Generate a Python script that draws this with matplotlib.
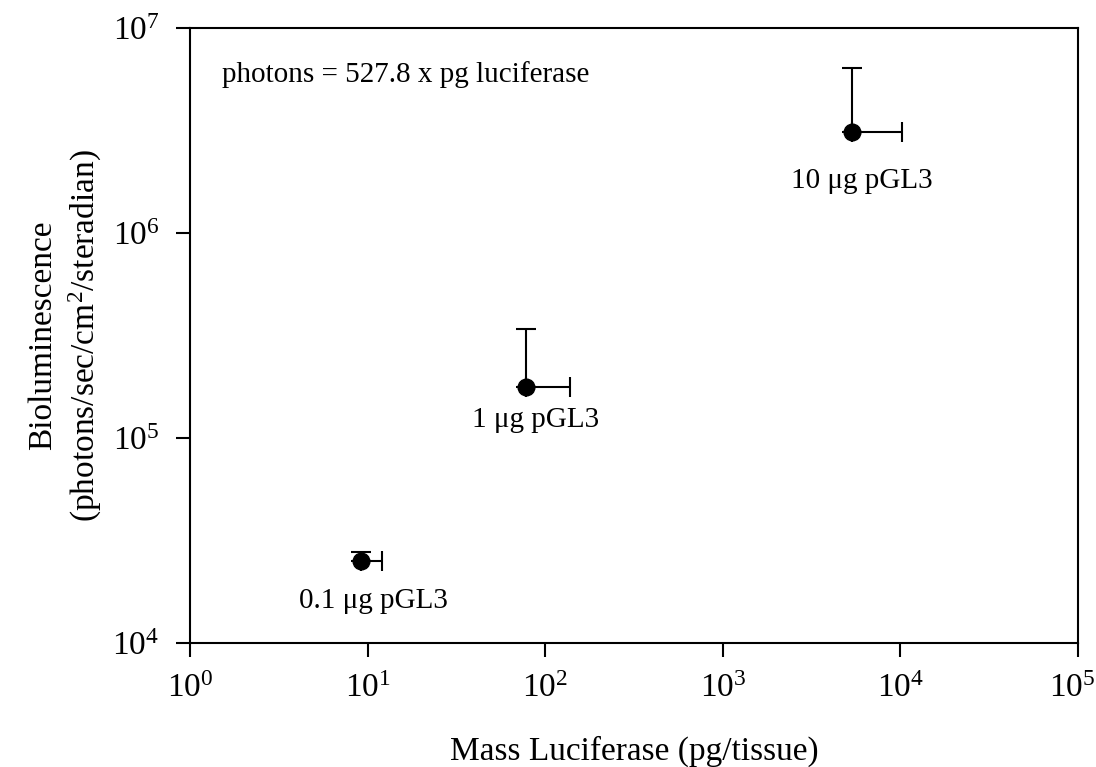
import numpy as np
import matplotlib
matplotlib.use("Agg")
import matplotlib.pyplot as plt
from matplotlib.ticker import LogFormatterMathtext, FuncFormatter

plt.rcParams["font.family"] = ["Liberation Serif", "DejaVu Serif"]
plt.rcParams["mathtext.fontset"] = "custom"
plt.rcParams["mathtext.rm"] = "Liberation Serif"
plt.rcParams["mathtext.it"] = "Liberation Serif:italic"

# data
labels = ["0.1 \u03bcg pGL3", "1 \u03bcg pGL3", "10 \u03bcg pGL3"]
mass = np.array([9.2, 78.0, 5340.0])          # pg/tissue
mass_err = np.array([2.9, 60.0, 4860.0])       # upper (right) only
biolum = np.array([2.51e4, 1.77e5, 3.11e6])
biolum_err = np.array([2.7e3, 1.64e5, 3.27e6])  # upper only
xmax = 1e5

fig = plt.figure(figsize=(10.96, 7.67), dpi=100)
ax = fig.add_axes([0.1734, 0.1617, 0.8102, 0.8018])

ax.errorbar(mass, biolum,
            xerr=[np.zeros(3), mass_err],
            yerr=[np.zeros(3), biolum_err],
            fmt="o", color="black", ms=12, elinewidth=1.5,
            capsize=7, capthick=1.5)

ax.set_xscale("log")
ax.set_yscale("log")
ax.set_xlim(1, xmax)
ax.set_ylim(1e4, 1e7)
ax.minorticks_off()
ax.tick_params(which="major", direction="out", length=10, width=1.5,
               labelsize=24, pad=12)
for s in ax.spines.values():
    s.set_linewidth(1.5)

# last x tick label is drawn by hand, nudged left so it stays on the canvas
fmt = LogFormatterMathtext()
ax.xaxis.set_major_formatter(
    FuncFormatter(lambda v, pos: "" if np.isclose(v, xmax) else fmt(v, pos)))
ax.annotate(fmt(xmax), (xmax, 1e4), xytext=(-4, -22), textcoords="offset points",
            fontsize=24, ha="center", va="top", annotation_clip=False)

ax.set_xlabel("Mass Luciferase (pg/tissue)", fontsize=24)
ax.xaxis.set_label_coords(0.5, -0.15)
ax.set_ylabel("Bioluminescence\n(photons/sec/cm$^2$/steradian)",
              fontsize=24, linespacing=1.3)
ax.yaxis.set_label_coords(-0.097, 0.5)

# label offsets in points (text placement only)
offsets = [(9, -29), (7, -24), (7, -35)]
for x, y, lab, off in zip(mass, biolum, labels, offsets):
    ax.annotate(lab, (x, y), xytext=off, textcoords="offset points",
                fontsize=21, ha="center", va="center")

ax.text(0.036, 0.925, "photons = 527.8 x pg luciferase", transform=ax.transAxes,
        fontsize=21, ha="left", va="center")

fig.savefig("out.png", dpi=100)
